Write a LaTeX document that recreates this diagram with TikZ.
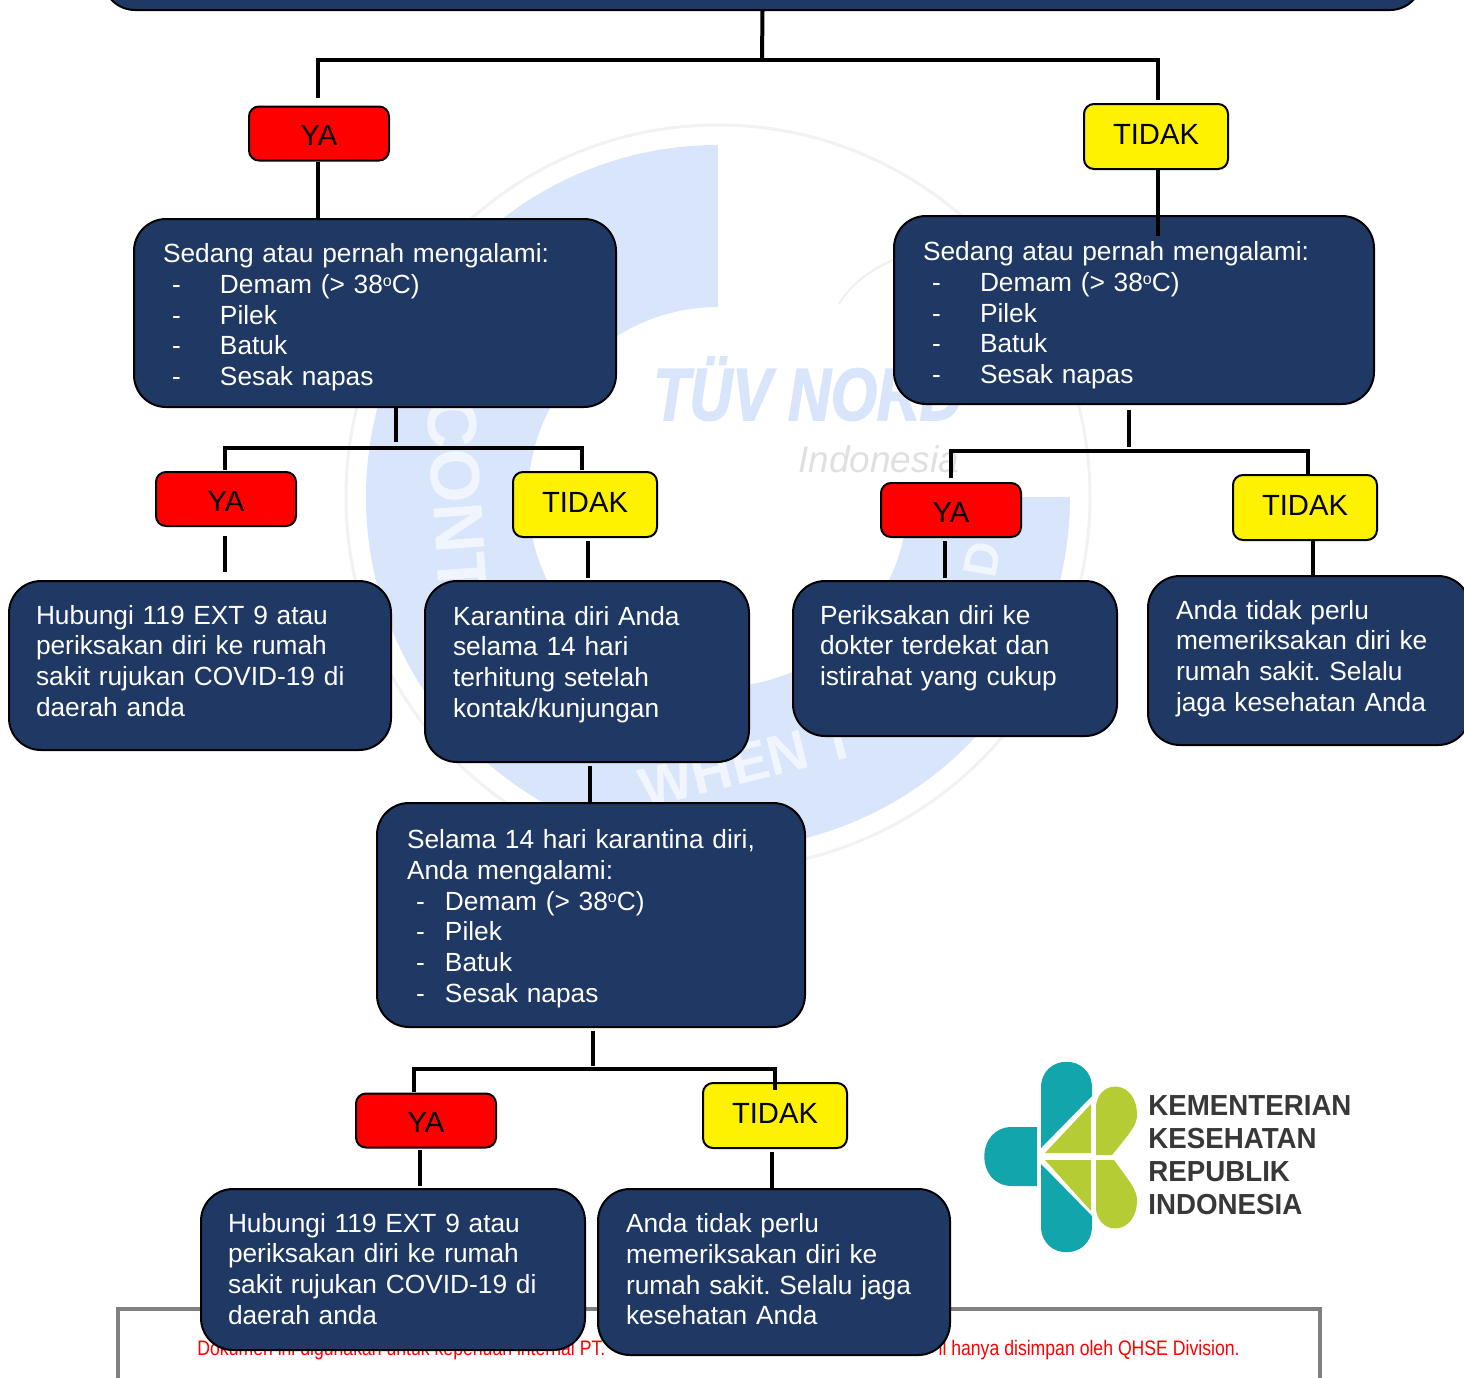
\documentclass[tikz,border=0pt]{standalone}
\usepackage{fontspec}
\setmainfont{Liberation Sans}
\newfontfamily\markfont[FakeStretch=0.8,BoldItalicFeatures={FakeBold=2}]{Liberation Sans}
\newfontfamily\redfont[FakeStretch=0.84]{Liberation Sans}
\newfontfamily\logofont[FakeStretch=0.955]{Liberation Sans}
\definecolor{navybox}{HTML}{1F3864}
\definecolor{ringblue}{HTML}{D9E5FB}
\definecolor{ringpale}{HTML}{F1F5FD}
\definecolor{logoteal}{HTML}{12A5AB}
\definecolor{logolime}{HTML}{B5CC34}
\newcommand{\dashrow}[2][24pt]{\hspace*{4.5pt}\makebox[#1][l]{-}#2}
\newcommand{\degrees}{\raisebox{3.6pt}{\fontsize{8}{8}\selectfont o}}
\frenchspacing
\tikzset{
	bluebox/.style={draw=black, line width=1pt, fill=navybox, rounded corners=16pt, anchor=north west, align=left, text=white, inner xsep=14pt, inner ysep=0pt, font=\fontsize{13.15}{15.4}\selectfont},
	answerbox/.style={draw=black, line width=1pt, rounded corners=5pt, minimum width=70pt, minimum height=27pt, inner sep=0pt, text=black, font=\fontsize{14.6}{16}\selectfont},
	yabox/.style={answerbox, fill=red, text height=12pt, text depth=0pt},
	tidakbox/.style={answerbox, fill=yellow, minimum width=72pt, minimum height=32.5pt, text height=10pt, text depth=2pt},
	connector/.style={line width=2pt, draw=black},
	fork/.style={line width=1.8pt, draw=black},
	ringtext/.style={text=ringpale, font=\fontsize{35}{35}\selectfont\bfseries, inner sep=0pt}
}
\begin{document}
\begin{tikzpicture}[x=0.5pt, y=-0.5pt]
	\clip (0, 0) rectangle (1464, 1378);

	% watermark
	\draw[color=black!5, line width=1.5pt] (718, 497) circle (372);
	\fill[ringblue] (718, 145) arc[start angle=-90, end angle=-360, radius=352] -- (908, 497) arc[start angle=-360, end angle=-90, radius=190] -- cycle;
	\draw[color=black!6, line width=1pt] (839, 304) .. controls (850, 285) and (870, 270) .. (893, 260);
	\node[ringtext, rotate=-86] (markcont) at (457, 497) {CONT};
	\node[ringtext, rotate=14, font=\fontsize{28}{28}\selectfont\bfseries] (markwhen) at (748, 763) {WHEN T};
	\node[ringtext, rotate=80, font=\fontsize{24}{24}\selectfont\bfseries] (markd) at (982, 560) {D};
	\node[text=ringblue, anchor=base west, inner sep=0pt, font=\fontsize{37}{37}\selectfont\markfont\bfseries\itshape] (marktuv) at (653, 420) {TÜV NORD};
	\node[text=black!12, anchor=base west, inner sep=0pt, font=\fontsize{18.5}{20}\selectfont\itshape] (markindo) at (798, 472) {Indonesia};

	% frame at the foot
	\draw[color=black!50, line width=1.8pt] (118, 1400) -- (118, 1309) -- (1320, 1309) -- (1320, 1400);
	\node[text=red, anchor=base west, inner sep=0pt, font=\fontsize{10.5}{12}\selectfont\redfont] (footleft) at (197, 1355) {Dokumen ini digunakan untuk keperluan internal PT.};
	\node[text=red, anchor=base east, inner sep=0pt, font=\fontsize{10.5}{12}\selectfont\redfont] (footright) at (1240, 1355) {il hanya disimpan oleh QHSE Division.};

	% logo
	\fill[logoteal] (1037, 1127) -- (1012, 1127) .. controls (975, 1127) and (975, 1186) .. (1012, 1186) -- (1037, 1186) -- cycle;
	\fill[logoteal] (1041, 1148) -- (1041, 1088) .. controls (1041, 1053) and (1092, 1053) .. (1092, 1088) -- (1092, 1096) -- cycle;
	\fill[logoteal] (1041, 1164) -- (1041, 1226) .. controls (1041, 1261) and (1092, 1261) .. (1092, 1226) -- (1092, 1216) -- cycle;
	\fill[logolime] (1045, 1153) -- (1091, 1104) -- (1091, 1153) -- cycle;
	\fill[logolime] (1045, 1160) -- (1091, 1160) -- (1091, 1211) -- cycle;
	\fill[logolime] (1096, 1155) -- (1096, 1105) .. controls (1100, 1078) and (1137, 1080) .. (1137, 1115) .. controls (1137, 1125) and (1130, 1133) .. (1112, 1155) -- cycle;
	\fill[logolime] (1096, 1160) -- (1096, 1210) .. controls (1100, 1237) and (1137, 1235) .. (1137, 1200) .. controls (1137, 1190) and (1130, 1182) .. (1114, 1160) -- cycle;
	\node[anchor=north west, align=left, inner sep=0pt, text=black!78, font=\fontsize{14.5}{16.5}\selectfont\logofont\bfseries] (logotext) at (1148, 1095) {KEMENTERIAN\\KESEHATAN\\REPUBLIK\\INDONESIA};

	% boxes
	\node[bluebox, anchor=south, minimum width=659.5pt, minimum height=40pt] (topbox) at (762.5, 11) {};

	\node[yabox] (yaone) at (319, 133.5) {YA};
	\node[tidakbox] (tidakone) at (1156, 136.5) {TIDAK};
	\node[bluebox, inner xsep=14.5pt, text width=212pt, minimum height=94pt, text depth=60pt] (sedangya) at (133, 218) {Sedang atau pernah mengalami:\\\dashrow{Demam (> 38\degrees{}C)}\\\dashrow{Pilek}\\\dashrow{Batuk}\\\dashrow{Sesak napas}};
	\node[bluebox, inner xsep=14.5pt, text width=211pt, minimum height=94pt, text depth=59pt] (sedangtidak) at (893, 215) {Sedang atau pernah mengalami:\\\dashrow{Demam (> 38\degrees{}C)}\\\dashrow{Pilek}\\\dashrow{Batuk}\\\dashrow{Sesak napas}};

	\node[yabox] (yatwo) at (226, 499) {YA};
	\node[tidakbox] (tidaktwo) at (585, 504.5) {TIDAK};
	\node[yabox] (yathree) at (951, 510) {YA};
	\node[tidakbox] (tidakthree) at (1305, 507.5) {TIDAK};

	\node[bluebox, inner xsep=13.5pt, text width=164pt, minimum height=84.5pt, text depth=51pt] (rujukone) at (8, 580) {Hubungi 119 EXT 9 atau\\periksakan diri ke rumah\\sakit rujukan COVID-19 di\\daerah anda};
	\node[bluebox, text width=134pt, minimum height=90.5pt, text depth=56pt] (karantina) at (424, 580) {Karantina diri Anda\\selama 14 hari\\terhitung setelah\\kontak/kunjungan};
	\node[bluebox, inner xsep=13.5pt, text width=135pt, minimum height=77.5pt, text depth=44pt] (periksa) at (792, 580) {Periksakan diri ke\\dokter terdekat dan\\istirahat yang cukup};
	\node[bluebox, text width=133pt, minimum height=84.5pt, text depth=51pt] (sehatone) at (1147, 575) {Anda tidak perlu\\memeriksakan diri ke\\rumah sakit. Selalu\\jaga kesehatan Anda};

	\node[bluebox, inner xsep=15pt, text width=184pt, minimum height=112pt, text depth=76pt] (selama) at (376, 802) {Selama 14 hari karantina diri,\\Anda mengalami:\\\dashrow[14.5pt]{Demam (> 38\degrees{}C)}\\\dashrow[14.5pt]{Pilek}\\\dashrow[14.5pt]{Batuk}\\\dashrow[14.5pt]{Sesak napas}};

	\node[yabox] (yafour) at (426, 1120.5) {YA};
	\node[tidakbox] (tidakfour) at (775, 1115.5) {TIDAK};

	\node[bluebox, inner xsep=13.5pt, text width=165pt, minimum height=80.5pt, text depth=47pt] (rujuktwo) at (200, 1188) {Hubungi 119 EXT 9 atau\\periksakan diri ke rumah\\sakit rujukan COVID-19 di\\daerah anda};
	\node[bluebox, text width=148pt, minimum height=83pt, text depth=49pt] (sehattwo) at (597, 1188) {Anda tidak perlu\\memeriksakan diri ke\\rumah sakit. Selalu jaga\\kesehatan Anda};

	% free ends of the connectors
	\coordinate (topfork) at (762, 60);
	\coordinate (stubtopya) at (318, 98);
	\coordinate (stubtoptidak) at (1158, 100);
	\coordinate (endtidakone) at (1158, 236);
	\coordinate (stema) at (396, 442);
	\coordinate (forka) at (396, 448);
	\coordinate (stubaya) at (225, 470);
	\coordinate (stubatidak) at (582, 470);
	\coordinate (stemb) at (1129, 410);
	\coordinate (endstemb) at (1129, 447);
	\coordinate (forkb) at (1129, 451);
	\coordinate (stubbya) at (951, 478);
	\coordinate (stubbtidak) at (1308, 474);
	\coordinate (downyatwo) at (225, 536);
	\coordinate (endyatwo) at (225, 572);
	\coordinate (downtidaktwo) at (588, 541);
	\coordinate (endtidaktwo) at (588, 578);
	\coordinate (downyathree) at (945, 541);
	\coordinate (endyathree) at (945, 578);
	\coordinate (downtidakthree) at (1313, 540);
	\coordinate (endtidakthree) at (1313, 577);
	\coordinate (stemd) at (590, 766);
	\coordinate (stemg) at (593, 1066);
	\coordinate (forkg) at (593, 1069);
	\coordinate (stubgya) at (414, 1092);
	\coordinate (stubgtidak) at (775, 1090);
	\coordinate (downyafour) at (420, 1150);
	\coordinate (endyafour) at (420, 1186);
	\coordinate (downtidakfour) at (772, 1152);
	\coordinate (endtidakfour) at (772, 1188);

	% connectors
	\draw[connector] (topbox.south) -- (topfork);
	\draw[fork] (stubtopya) -- (stubtopya |- topfork) -- (stubtoptidak |- topfork) -- (stubtoptidak);
	\draw[connector] (yaone.south -| stubtopya) -- (sedangya.north -| stubtopya);
	\draw[connector] (tidakone.south -| endtidakone) -- (endtidakone);

	\draw[connector] (sedangya.south -| stema) -- (stema);
	\draw[fork] (stubaya) -- (stubaya |- forka) -- (stubatidak |- forka) -- (stubatidak);
	\draw[connector] (stemb) -- (endstemb);
	\draw[fork] (stubbya) -- (stubbya |- forkb) -- (stubbtidak |- forkb) -- (stubbtidak);

	\draw[connector] (downyatwo) -- (endyatwo);
	\draw[connector] (downtidaktwo) -- (endtidaktwo);
	\draw[connector] (downyathree) -- (endyathree);
	\draw[connector] (tidakthree.south -| downtidakthree) -- (endtidakthree);

	\draw[connector] (stemd) -- (selama.north -| stemd);
	\draw[connector] (selama.south -| stemg) ++(0, 3) -- (stemg);
	\draw[fork] (stubgya) -- (stubgya |- forkg) -- (stubgtidak |- forkg) -- (stubgtidak);
	\draw[connector] (downyafour) -- (endyafour);
	\draw[connector] (downtidakfour) -- (endtidakfour);
\end{tikzpicture}
\end{document}
